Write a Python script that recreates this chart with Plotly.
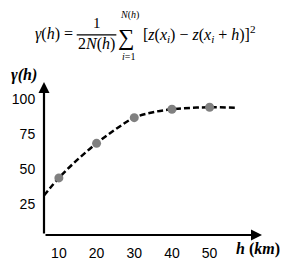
import plotly.graph_objects as go

# ---- data ----
lag_h = [10, 20, 30, 40, 50]                 # experimental semivariogram lags (km)
gamma_obs = [43.8, 68.5, 86.9, 92.9, 94.3]   # experimental semivariance

model_h = [6, 10, 15, 20, 25, 30, 35, 40, 45, 50, 57.4]   # fitted model curve
model_gamma = [31, 43.8, 57, 68.5, 78.5, 86.9, 90.8, 92.9, 93.9, 94.3, 94.0]

x_ticks = [10, 20, 30, 40, 50]
y_ticks = [25, 50, 75, 100]

X_RANGE = [6.05, 63.9]
Y_RANGE = [2.96, 112.4]

W, H = 292, 273
L, R, T, B = 42, 30, 82, 32

def paper(px, py):
    return (px - L) / (W - L - R), (H - B - py) / (H - T - B)

fig = go.Figure()
fig.add_trace(go.Scatter(x=model_h, y=model_gamma, mode="lines",
                         line=dict(color="black", width=2.5, dash="6px,3px", shape="spline"),
                         hoverinfo="skip"))
fig.add_trace(go.Scatter(x=lag_h, y=gamma_obs, mode="markers",
                         marker=dict(color="#808080", size=9)))

ann = []
# axes arrows
ann.append(dict(x=X_RANGE[0], y=Y_RANGE[1], ax=X_RANGE[0], ay=Y_RANGE[0],
                xref="x", yref="y", axref="x", ayref="y", text="", showarrow=True,
                arrowhead=2, arrowsize=1, arrowwidth=2.2, arrowcolor="black"))
ann.append(dict(x=X_RANGE[1], y=Y_RANGE[0], ax=X_RANGE[0], ay=Y_RANGE[0],
                xref="x", yref="y", axref="x", ayref="y", text="", showarrow=True,
                arrowhead=2, arrowsize=1, arrowwidth=2.2, arrowcolor="black"))

serif = "Liberation Serif"

def txt(px, py, text, size, family=serif, xanchor="center"):
    x, y = paper(px, py)
    ann.append(dict(x=x, y=y, xref="paper", yref="paper", text=text, showarrow=False,
                    xanchor=xanchor, yanchor="middle",
                    font=dict(family=family, size=size, color="black")))

# axis titles
txt(22, 75, "<b><i>γ(h)</i></b>", 16)
txt(258, 256, "<b><i>h</i> (<i>km</i>)</b>", 16)

# formula
txt(52, 32, "<i>γ</i>(<i>h</i>) =", 16)
txt(95, 21, "1", 15)
txt(95, 43, "2<i>N</i>(<i>h</i>)", 16)
txt(125, 36, "∑", 23)
txt(128, 12, "<i>N</i>(<i>h</i>)", 10)
txt(127, 56, "<i>i</i>=1", 10)
txt(140, 32, "[<i>z</i>(<i>x<sub>i</sub></i>) − <i>z</i>(<i>x<sub>i</sub></i> + <i>h</i>)]<sup>2</sup>", 16,
    xanchor="left")

fx0, fy = paper(75, 33)
fx1, _ = paper(115, 33)
shapes = [dict(type="line", xref="paper", yref="paper", x0=fx0, x1=fx1, y0=fy, y1=fy,
               line=dict(color="black", width=1.2))]

fig.update_layout(
    width=W, height=H, margin=dict(l=L, r=R, t=T, b=B),
    paper_bgcolor="white", plot_bgcolor="white", showlegend=False,
    annotations=ann, shapes=shapes,
    xaxis=dict(range=X_RANGE, tickvals=x_ticks, showgrid=False, zeroline=False,
               showline=False, ticks="outside", ticklen=5, tickcolor="rgba(0,0,0,0)",
               tickfont=dict(family="Liberation Sans", size=14, color="black")),
    yaxis=dict(range=Y_RANGE, tickvals=y_ticks, showgrid=False, zeroline=False,
               showline=False, ticks="outside", ticklen=5, tickcolor="rgba(0,0,0,0)",
               tickfont=dict(family="Liberation Sans", size=14, color="black")),
)
fig.write_html("out.html")
